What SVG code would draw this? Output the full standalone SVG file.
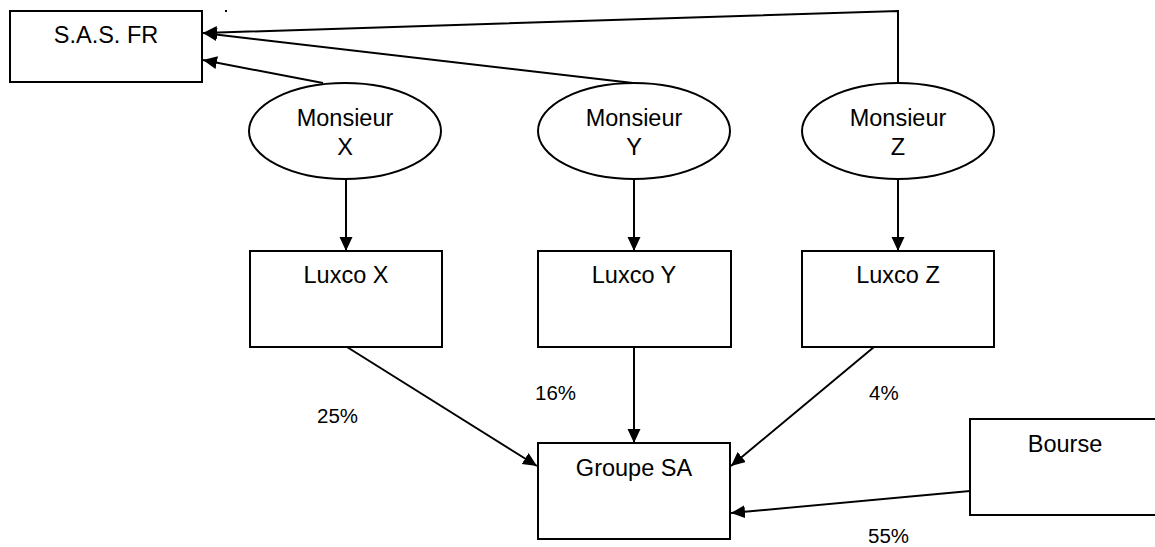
<svg xmlns="http://www.w3.org/2000/svg" width="1155" height="547" viewBox="0 0 1155 547">
  <style>
    .box { fill: #fff; stroke: #000; stroke-width: 2; }
    .lbl { font-family: "Liberation Sans", Arial, sans-serif; font-size: 23.5px; fill: #000; text-anchor: middle; }
    .pct { font-family: "Liberation Sans", Arial, sans-serif; font-size: 20.5px; fill: #000; }
    .edge { fill: none; stroke: #000; stroke-width: 2; }
  </style>
  <defs>
    <marker id="arrow" markerUnits="userSpaceOnUse" markerWidth="15" markerHeight="14" refX="14" refY="6.5" orient="auto">
      <path d="M0,0 L14,6.5 L0,13 Z" fill="#000"/>
    </marker>
  </defs>
  <rect width="1155" height="547" fill="#fff"/>

  <!-- connectors -->
  <g id="connectors">
    <polyline class="edge" points="898,83 898,11 203,33" marker-end="url(#arrow)"/>
    <line class="edge" x1="633" y1="83" x2="203" y2="33" marker-end="url(#arrow)"/>
    <line class="edge" x1="323" y1="83" x2="203" y2="60" marker-end="url(#arrow)"/>
    <line class="edge" x1="346" y1="179" x2="346" y2="251" marker-end="url(#arrow)"/>
    <line class="edge" x1="634" y1="179" x2="634" y2="251" marker-end="url(#arrow)"/>
    <line class="edge" x1="898" y1="179" x2="898" y2="251" marker-end="url(#arrow)"/>
    <line class="edge" x1="347" y1="347" x2="537" y2="466" marker-end="url(#arrow)"/>
    <line class="edge" x1="634" y1="347" x2="634" y2="443" marker-end="url(#arrow)"/>
    <line class="edge" x1="874" y1="347" x2="731" y2="466" marker-end="url(#arrow)"/>
    <line class="edge" x1="970" y1="491" x2="731" y2="513" marker-end="url(#arrow)"/>
  </g>

  <!-- stray period near the top -->
  <rect x="225" y="10" width="2" height="2" fill="#000"/>

  <g id="sas-fr">
    <rect class="box" x="10" y="11" width="192" height="71"/>
    <text class="lbl" x="106" y="43">S.A.S. FR</text>
  </g>

  <g id="monsieur-x">
    <ellipse class="box" cx="345" cy="131" rx="96" ry="48"/>
    <text class="lbl" x="345" y="126">Monsieur</text>
    <text class="lbl" x="345" y="155">X</text>
  </g>
  <g id="monsieur-y">
    <ellipse class="box" cx="634" cy="131" rx="96" ry="48"/>
    <text class="lbl" x="634" y="126">Monsieur</text>
    <text class="lbl" x="634" y="155">Y</text>
  </g>
  <g id="monsieur-z">
    <ellipse class="box" cx="898" cy="131" rx="96" ry="48"/>
    <text class="lbl" x="898" y="126">Monsieur</text>
    <text class="lbl" x="898" y="155">Z</text>
  </g>

  <g id="luxco-x">
    <rect class="box" x="250" y="251" width="192" height="96"/>
    <text class="lbl" x="346" y="283">Luxco X</text>
  </g>
  <g id="luxco-y">
    <rect class="box" x="538" y="251" width="193" height="96"/>
    <text class="lbl" x="634" y="283">Luxco Y</text>
  </g>
  <g id="luxco-z">
    <rect class="box" x="802" y="251" width="192" height="96"/>
    <text class="lbl" x="898" y="283">Luxco Z</text>
  </g>

  <g id="groupe-sa">
    <rect class="box" x="538" y="443" width="192" height="96"/>
    <text class="lbl" x="634" y="476">Groupe SA</text>
  </g>

  <g id="bourse">
    <rect class="box" x="970" y="419" width="200" height="96"/>
    <text class="lbl" x="1065" y="452">Bourse</text>
  </g>

  <!-- ownership shares -->
  <g id="shares">
    <text class="pct" x="317" y="423">25%</text>
    <text class="pct" x="535" y="400">16%</text>
    <text class="pct" x="869" y="400">4%</text>
    <text class="pct" x="868" y="543">55%</text>
  </g>
</svg>
